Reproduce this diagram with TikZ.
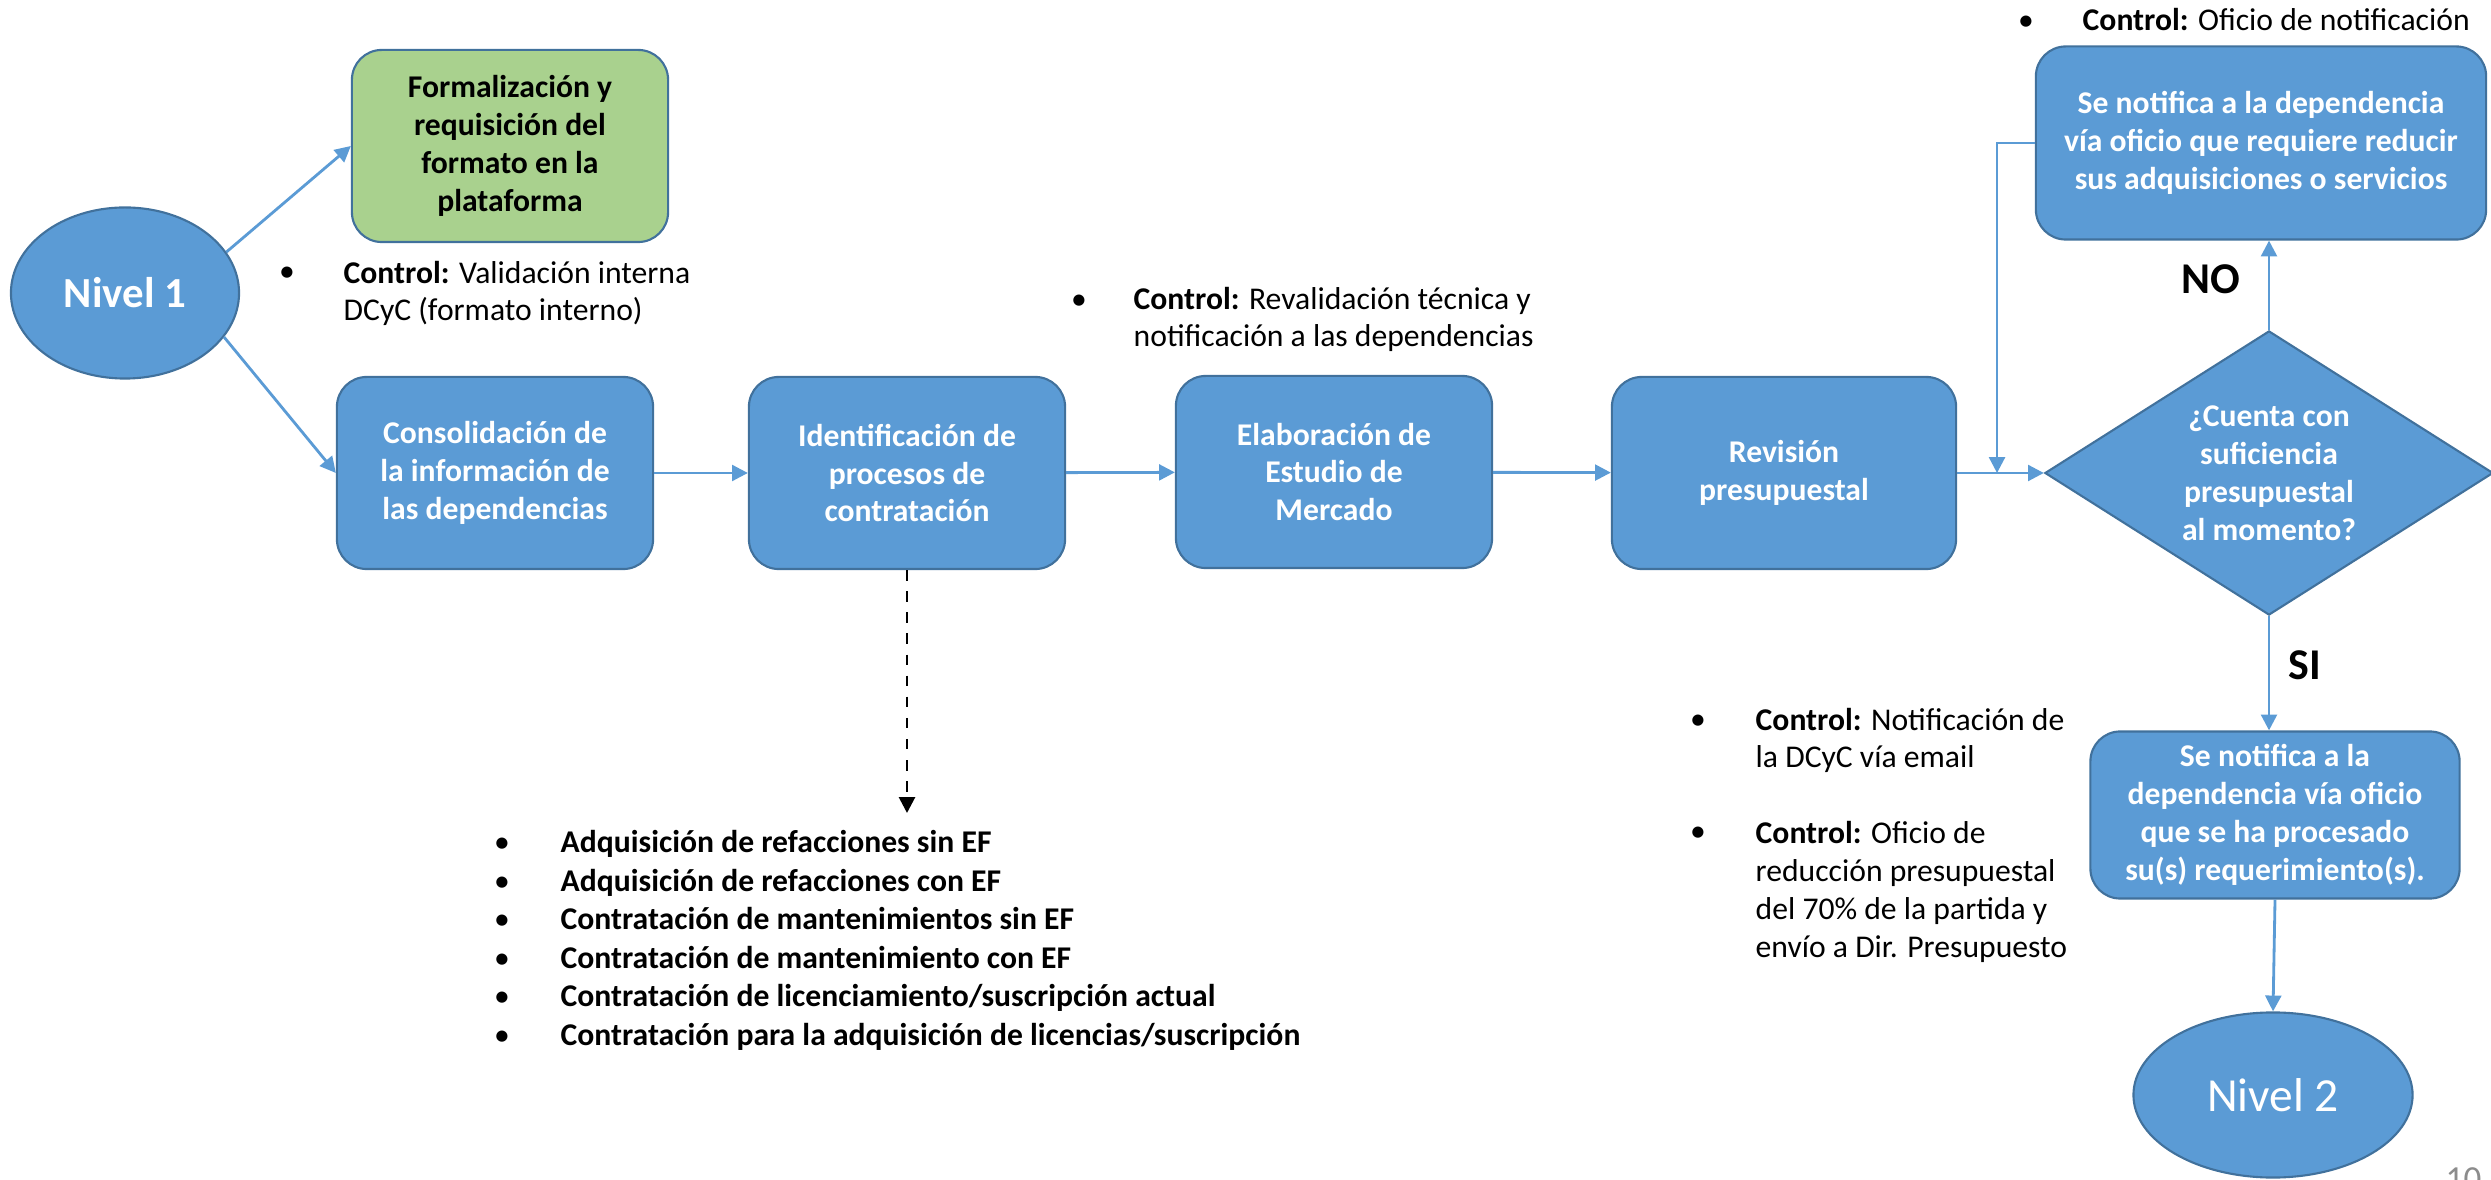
\documentclass[tikz,border=0pt]{standalone}
\usepackage{fontspec}
\setmainfont{Carlito}
\usetikzlibrary{arrows.meta,shapes.geometric,positioning,calc}
\definecolor{boxblue}{HTML}{5B9BD5}
\definecolor{edgeblue}{HTML}{41719C}
\definecolor{boxgreen}{HTML}{A9D18E}
\newcommand\procfont{\fontsize{9}{10.8}\selectfont\bfseries}
\newcommand\notefont{\fontsize{9}{10.8}\selectfont}
\newcommand\ctrl{\textbf{Control:} }
\tikzset{%
  >={Triangle[length=4.5pt,width=4.5pt]},
  proc/.style={rectangle,draw=edgeblue,line width=0.6pt,fill=boxblue,rounded corners=8.5pt,
    minimum width=3.16cm,minimum height=1.92cm,inner sep=0pt,align=center,
    text=white,font=\procfont},
  term/.style={ellipse,draw=edgeblue,line width=0.6pt,fill=boxblue,inner sep=0pt,text=white},
  decis/.style={diamond,aspect=1.6,draw=edgeblue,line width=0.6pt,fill=boxblue,inner sep=0pt,
    minimum width=4.48cm,minimum height=2.84cm,align=center,text=white,font=\procfont},
  flow/.style={draw=boxblue,line width=0.8pt,->},
  note/.style={anchor=base west,inner sep=0pt,align=left,font=\notefont},
  dot/.style={anchor=base,inner sep=0pt,font=\notefont},
  yesno/.style={inner sep=0pt,font=\fontsize{12.5}{15}\selectfont\bfseries}
}
\begin{document}
\begin{tikzpicture}[x=0.01cm,y=-0.01cm]
  \path[use as bounding box,clip] (0,0) rectangle (2491,1180);
  % main flow
  \node[term,minimum width=2.28cm,minimum height=1.71cm,
        font=\fontsize{12.2}{14}\selectfont\bfseries] (nivel1) at (125,293) {Nivel 1};
  \node[proc,fill=boxgreen,text=black] (formal) at (510,146)
    {Formalización y\\requisición del\\formato en la\\plataforma};
  \node[proc] (consol) at (495,473) {Consolidación de\\la información de\\las dependencias};
  \node[proc] (ident) at (907,473) {Identificación de\\procesos de\\contratación};
  \node[proc] (elab) at (1334,472) {Elaboración de\\Estudio de\\Mercado};
  \node[proc,minimum width=3.44cm] (revis) at (1784,473) {Revisión\\presupuestal};
  \node[decis] (quest) at (2269,473) {¿Cuenta con\\suficiencia\\presupuestal\\al momento?};
  \node[proc,minimum width=4.5cm,minimum height=1.93cm] (reduce) at (2261,143)
    {Se notifica a la dependencia\\vía oficio que requiere reducir\\sus adquisiciones o servicios};
  \node[proc,minimum width=3.69cm,minimum height=1.67cm] (notif) at (2275,815)
    {Se notifica a la\\dependencia vía oficio\\que se ha procesado\\su(s) requerimiento(s).};
  \node[term,minimum width=2.79cm,minimum height=1.65cm,
        font=\fontsize{13.5}{16}\selectfont] (nivel2) at (2273,1095) {Nivel 2};
  \node[yesno] (nolbl) at (2211,279) {NO};
  \node[yesno] (silbl) at (2305,665) {SI};
  % connectors
  \draw[flow] (nivel1.22) -- (formal.west);
  \draw[flow] (nivel1.-24) -- (consol.west);
  \draw[flow] (consol) -- (ident);
  \draw[flow] (ident) -- (elab);
  \draw[flow] (elab) -- (revis);
  \draw[flow] (revis) -- (quest);
  \draw[flow] (quest.north) -- (quest.north |- reduce.south);
  \draw[flow] (reduce.west) -| ($(revis.east)!.46!(quest.west)$);
  \draw[flow] (quest.south) -- (quest.south |- notif.north);
  \draw[flow] (notif.south) -- (nivel2.north);
  \coordinate (lst) at (907,813);
  \draw[dashed,line width=0.8pt,->] (ident.south) -- (lst);
  % controls (multi-line notes sit on their last baseline)
  \node[dot] (d1) at (287,282) {•};
  \node[note] (c1) at (343,321) {\ctrl Validación interna\\DCyC (formato interno)};
  \node[dot] (d2) at (1079,310) {•};
  \node[note] (c2) at (1133,347) {\ctrl Revalidación técnica y\\notificación a las dependencias};
  \node[dot] (d3) at (2026,31) {•};
  \node[note] (c3) at (2082,31) {\ctrl Oficio de notificación};
  \node[dot] (d4) at (1698,730) {•};
  \node[note] (c4) at (1755,768) {\ctrl Notificación de\\la DCyC vía email};
  \node[dot] (d5) at (1698,842) {•};
  \node[note] (c5) at (1755,957)
    {\ctrl Oficio de\\reducción presupuestal\\del 70\% de la partida y\\envío a Dir. Presupuesto};
  % contract types
  \foreach \txt [count=\i from 0] in {Adquisición de refacciones sin EF,
      Adquisición de refacciones con EF,Contratación de mantenimientos sin EF,
      Contratación de mantenimiento con EF,Contratación de licenciamiento/suscripción actual,
      Contratación para la adquisición de licencias/suscripción}{
    \node[dot] (b\i) at (502,853+38.4*\i) {•};
    \node[note,font=\notefont\bfseries] (it\i) at (560,853+38.4*\i) {\txt};
  }
  \node[anchor=north west,inner sep=0pt,text=black!45,
        font=\fontsize{10}{12}\selectfont] (pgno) at (2445,1167) {10};
\end{tikzpicture}
\end{document}
